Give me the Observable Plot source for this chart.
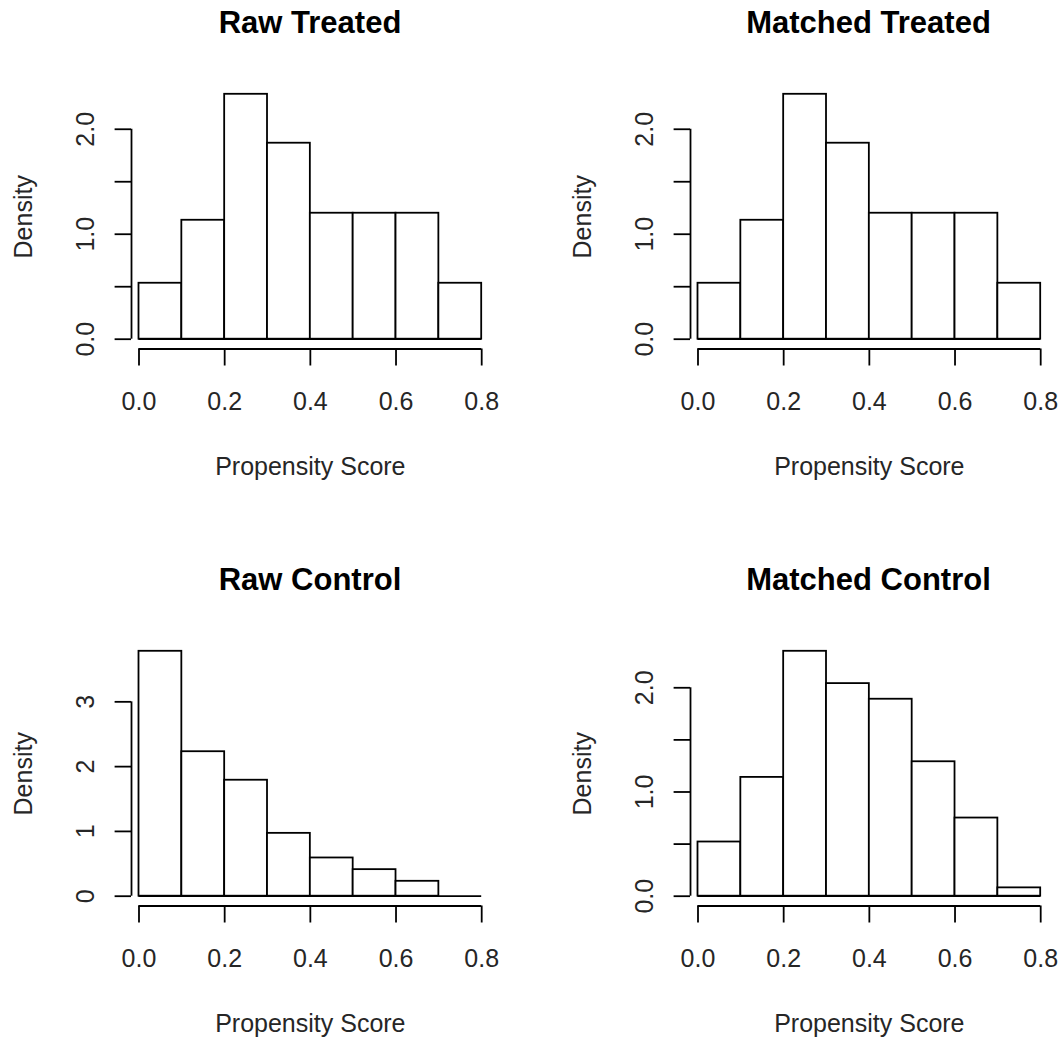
<!DOCTYPE html>
<html><head><meta charset="utf-8">
<script src="https://cdn.jsdelivr.net/npm/d3@7"></script>
<script src="https://cdn.jsdelivr.net/npm/@observablehq/plot@0.6"></script>
<style>
body{margin:0;background:#fff;}
#wrap{position:relative;width:1060px;height:1041px;overflow:hidden;background:#fff;font-family:"Liberation Sans",Arial,sans-serif;}
.panel{position:absolute;width:530px;height:490px;}
.title{position:absolute;left:110px;width:400px;text-align:center;font-weight:bold;font-size:31px;line-height:31px;top:7px;color:#000;white-space:nowrap;}
</style></head><body><div id="wrap"></div>
<script>
// ---- data ----
const breaks = [0, 0.1, 0.2, 0.3, 0.4, 0.5, 0.6, 0.7, 0.8];
const xTicks = [0, 0.2, 0.4, 0.6, 0.8];
const titles = ["Raw Treated", "Matched Treated", "Raw Control", "Matched Control"];
const rawTreated     = [0.533, 1.133, 2.333, 1.867, 1.2, 1.2, 1.2, 0.533];
const matchedTreated = [0.533, 1.133, 2.333, 1.867, 1.2, 1.2, 1.2, 0.533];
const rawControl     = [3.78, 2.23, 1.79, 0.97, 0.59, 0.41, 0.23, 0];
const matchedControl = [0.52, 1.14, 2.35, 2.04, 1.89, 1.29, 0.75, 0.08];
const yTicksTreated = [0, 0.5, 1, 1.5, 2];
const yLabelsTreated = ["0.0", "", "1.0", "", "2.0"];
const yTicksRawControl = [0, 1, 2, 3];
const yLabelsRawControl = ["0", "1", "2", "3"];
const xLabel = "Propensity Score";
const yLabel = "Density";

const panels = [
  {title: titles[0], values: rawTreated, yTicks: yTicksTreated, yLabels: yLabelsTreated, left: 0, top: 0},
  {title: titles[1], values: matchedTreated, yTicks: yTicksTreated, yLabels: yLabelsTreated, left: 558.5, top: 0},
  {title: titles[2], values: rawControl, yTicks: yTicksRawControl, yLabels: yLabelsRawControl, left: 0, top: 557},
  {title: titles[3], values: matchedControl, yTicks: yTicksTreated, yLabels: yLabelsTreated, left: 558.5, top: 557}
];

const wrap = document.getElementById("wrap");
const W = 530, H = 490, mL = 131, mT = 84, plotBottom = 348.5;
const xPad = 0.0175;
const lw = 1.8;
const txt = "#262626";

for (const p of panels) {
  const bins = p.values.map((v, i) => ({x1: breaks[i], x2: breaks[i + 1], y: v}));
  const ymax = d3.max(p.values);
  const xDomain = [breaks[0] - xPad, breaks[breaks.length - 1] + xPad];
  const pxPerUnit = (481.2 - 138.5) / (breaks[breaks.length - 1] - breaks[0]);
  const mR = W - mL - (xDomain[1] - xDomain[0]) * pxPerUnit;
  const labelMap = new Map(p.yTicks.map((t, i) => [t, p.yLabels[i]]));
  const chart = Plot.plot({
    width: W, height: H,
    marginLeft: mL, marginRight: mR, marginTop: mT, marginBottom: H - plotBottom,
    style: {fontFamily: "'Liberation Sans', Arial, sans-serif", fontSize: "25px", color: txt, background: "transparent"},
    x: {domain: xDomain},
    y: {domain: [-0.04 * ymax, 1.04 * ymax]},
    marks: [
      Plot.rectY(bins, {x1: "x1", x2: "x2", y: "y", fill: "white", stroke: "black", strokeWidth: lw}),
      Plot.ruleY([0], {x1: breaks[0], x2: breaks[breaks.length - 1], stroke: "black", strokeWidth: lw}),
      Plot.ruleY([-0.04 * ymax], {x1: xTicks[0], x2: xTicks[xTicks.length - 1], stroke: "black", strokeWidth: lw}),
      Plot.ruleX([xDomain[0]], {y1: p.yTicks[0], y2: p.yTicks[p.yTicks.length - 1], stroke: "black", strokeWidth: lw}),
      Plot.axisX({ticks: xTicks, tickSize: 17, tickPadding: 26, tickFormat: d3.format(".1f"), label: null, strokeWidth: lw, stroke: "black", fontSize: 25}),
      Plot.axisY({ticks: p.yTicks, tickSize: 16.4, tickRotate: -90, tickPadding: 21.3, tickFormat: d => labelMap.get(d), label: null, strokeWidth: lw, stroke: "black", fontSize: 25}),
      Plot.text([yLabel], {text: d => d, frameAnchor: "left", dx: -99.3, rotate: -90, lineAnchor: "bottom", textAnchor: "middle", fontSize: 25, fill: txt}),
      Plot.text([xLabel], {text: d => d, frameAnchor: "bottom", dy: 125.5, lineAnchor: "bottom", textAnchor: "middle", fontSize: 25, fill: txt})
    ]
  });
  const div = document.createElement("div");
  div.className = "panel";
  div.style.left = p.left + "px";
  div.style.top = p.top + "px";
  div.appendChild(chart);
  const t = document.createElement("div");
  t.className = "title";
  t.textContent = p.title;
  div.appendChild(t);
  wrap.appendChild(div);
}
</script></body></html>
